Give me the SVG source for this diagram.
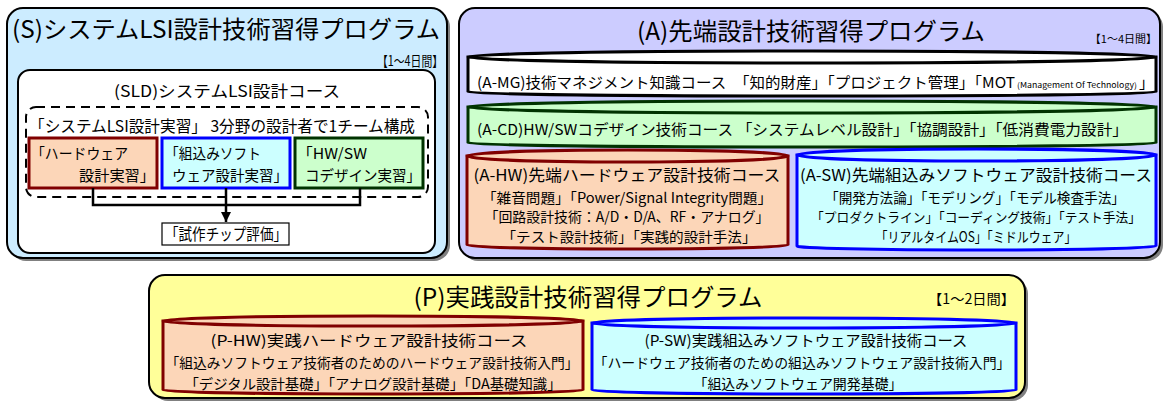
<svg xmlns="http://www.w3.org/2000/svg" width="1166" height="402" viewBox="0 0 1166 402">
<defs>
<style>
text{font-family:"Noto Sans CJK JP","Noto Sans",sans-serif;fill:#000}
.panel{stroke:#000;stroke-width:2}
.shadow{fill:#808080;stroke:none}
.t24{font-size:24px}
.t16{font-size:16px}
.t15{font-size:15px}
.t14{font-size:14px}
.t13{font-size:13px}
.mid{text-anchor:middle}
.end{text-anchor:end}
.hw{fill:#fcd6b8;stroke:#800000;stroke-width:3}
.sw{fill:#ccffff;stroke:#0000ff;stroke-width:3}
.cd{fill:#ccffcc;stroke:#003300;stroke-width:3}
.mg{fill:#ffffff;stroke:#000;stroke-width:3}
.conn{fill:none;stroke:#000;stroke-width:2.5}
</style>
<marker id="arr" viewBox="0 0 10 10" refX="10" refY="5" markerWidth="4" markerHeight="4" orient="auto" markerUnits="strokeWidth">
<path d="M0 0 L10 5 L0 10 Z" fill="#000"/>
</marker>
</defs>
<rect width="1166" height="402" fill="#fff"/>

<!-- S panel -->
<g id="panel-S">
<rect class="shadow" x="10" y="11" width="440" height="250" rx="16"/>
<rect class="panel" x="7" y="8" width="440" height="250" rx="16" fill="#ccecff"/>
<text class="t24" x="12" y="38" textLength="428" lengthAdjust="spacingAndGlyphs">(S)システムLSI設計技術習得プログラム</text>
<text class="t14 end" x="443" y="66" textLength="66" lengthAdjust="spacingAndGlyphs">【1～4日間】</text>
</g>
<g id="course-SLD">
<rect class="panel" x="18" y="70" width="417" height="183" rx="12" fill="#fff"/>
<text class="t16 mid" x="227" y="97" textLength="226" lengthAdjust="spacingAndGlyphs">(SLD)システムLSI設計コース</text>
</g>
<g id="group-practice">
<rect x="26" y="107" width="402" height="90" rx="10" fill="none" stroke="#000" stroke-width="2" stroke-dasharray="9 6"/>
<text class="t16" x="29" y="132" textLength="386" lengthAdjust="spacingAndGlyphs">「システムLSI設計実習」 3分野の設計者で1チーム構成</text>
</g>
<g id="box-hw">
<rect x="29" y="138" width="128" height="50" fill="#fcd6b8" stroke="#800000" stroke-width="3"/>
<text class="t15" x="31" y="159" textLength="97" lengthAdjust="spacingAndGlyphs">「ハードウェア</text>
<text class="t15 end" x="155" y="181" textLength="76" lengthAdjust="spacingAndGlyphs">設計実習」</text>
</g>
<g id="box-sw">
<rect x="162" y="138" width="128" height="50" fill="#ccffff" stroke="#0000ff" stroke-width="3"/>
<text class="t15" x="165" y="159" textLength="96" lengthAdjust="spacingAndGlyphs">「組込みソフト</text>
<text class="t15 end" x="288" y="181" textLength="116" lengthAdjust="spacingAndGlyphs">ウェア設計実習」</text>
</g>
<g id="box-cd">
<rect x="295" y="138" width="128" height="50" fill="#ccffcc" stroke="#003300" stroke-width="3"/>
<text class="t15" x="297" y="159" textLength="70" lengthAdjust="spacingAndGlyphs">「HW/SW</text>
<text class="t15 end" x="421" y="181" textLength="116" lengthAdjust="spacingAndGlyphs">コデザイン実習」</text>
</g>
<g id="box-chip">
<rect x="162" y="223" width="127" height="22" fill="#fff" stroke="#000" stroke-width="1.2"/>
<text class="t16 mid" x="226" y="240" textLength="122" lengthAdjust="spacingAndGlyphs">「試作チップ評価」</text>
</g>
<g id="connectors">
<path class="conn" d="M93 188 V205 H360 V188"/>
<path class="conn" d="M226 188 V222" marker-end="url(#arr)"/>
</g>

<!-- A panel -->
<g id="panel-A">
<rect class="shadow" x="462" y="11" width="701" height="250" rx="16"/>
<rect class="panel" x="459" y="8" width="701" height="250" rx="16" fill="#ccccff"/>
<text class="t24 mid" x="811" y="40" textLength="348" lengthAdjust="spacingAndGlyphs">(A)先端設計技術習得プログラム</text>
<text class="end" x="1157" y="43" font-size="11">【1～4日間】</text>
</g>
<g id="course-A-MG">
<path class="mg" d="M468 57 V92 A344 4 0 0 0 1156 92 V57 Z"/>
<ellipse class="mg" cx="812" cy="57" rx="344" ry="6"/>
<text class="t15" y="88"><tspan x="477" textLength="538" lengthAdjust="spacingAndGlyphs">(A-MG)技術マネジメント知識コース　「知的財産」「プロジェクト管理」「MOT</tspan><tspan x="1017" font-size="8" textLength="120" lengthAdjust="spacingAndGlyphs">(Management Of Technology)</tspan><tspan x="1139">」</tspan></text>
</g>
<g id="course-A-CD">
<path class="cd" d="M468 107 V143 A344 4 0 0 0 1156 143 V107 Z"/>
<ellipse class="cd" cx="812" cy="107" rx="344" ry="6"/>
<text class="t15" x="477" y="135" textLength="651" lengthAdjust="spacingAndGlyphs">(A-CD)HW/SWコデザイン技術コース 「システムレベル設計」「協調設計」「低消費電力設計」</text>
</g>
<g id="course-A-HW">
<path class="hw" d="M467 156 V245 A160.5 4 0 0 0 788 245 V156 Z"/>
<ellipse class="hw" cx="627.5" cy="156" rx="160.5" ry="6"/>
<text class="t16 mid" x="627" y="181" textLength="307" lengthAdjust="spacingAndGlyphs">(A-HW)先端ハードウェア設計技術コース</text>
<text class="t14 mid" x="627" y="203" textLength="290" lengthAdjust="spacingAndGlyphs">「雑音問題」「Power/Signal Integrity問題」</text>
<text class="t14 mid" x="627" y="222" textLength="285" lengthAdjust="spacingAndGlyphs">「回路設計技術：A/D・D/A、RF・アナログ」</text>
<text class="t14 mid" x="629" y="242" textLength="255" lengthAdjust="spacingAndGlyphs">「テスト設計技術」「実践的設計手法」</text>
</g>
<g id="course-A-SW">
<path class="sw" d="M797 155 V246 A179.5 4 0 0 0 1156 246 V155 Z"/>
<ellipse class="sw" cx="976.5" cy="155" rx="179.5" ry="6"/>
<text class="t16 mid" x="976" y="181" textLength="352" lengthAdjust="spacingAndGlyphs">(A-SW)先端組込みソフトウェア設計技術コース</text>
<text class="t14 mid" x="975" y="203" textLength="300" lengthAdjust="spacingAndGlyphs">「開発方法論」「モデリング」「モデル検査手法」</text>
<text class="t13 mid" x="976" y="222" textLength="330" lengthAdjust="spacingAndGlyphs">「プロダクトライン」「コーディング技術」「テスト手法」</text>
<text class="t14 mid" x="976" y="242" textLength="201" lengthAdjust="spacingAndGlyphs">「リアルタイムOS」「ミドルウェア」</text>
</g>

<!-- P panel -->
<g id="panel-P">
<rect class="shadow" x="152" y="278" width="876" height="123" rx="16"/>
<rect class="panel" x="149" y="275" width="876" height="123" rx="16" fill="#ffff99"/>
<text class="t24 mid" x="588" y="306" textLength="349" lengthAdjust="spacingAndGlyphs">(P)実践設計技術習得プログラム</text>
<text class="t14 end" x="1015" y="304" textLength="87" lengthAdjust="spacingAndGlyphs">【1～2日間】</text>
</g>
<g id="course-P-HW">
<path class="hw" d="M163 321 V390 A210 4 0 0 0 583 390 V321 Z"/>
<ellipse class="hw" cx="373" cy="321" rx="210" ry="5"/>
<text class="t15 mid" x="369" y="346" textLength="317" lengthAdjust="spacingAndGlyphs">(P-HW)実践ハードウェア設計技術コース</text>
<text class="t14 mid" x="372" y="368" textLength="413" lengthAdjust="spacingAndGlyphs">「組込みソフトウェア技術者のためのハードウェア設計技術入門」</text>
<text class="t14 mid" x="373" y="389" textLength="377" lengthAdjust="spacingAndGlyphs">「デジタル設計基礎」「アナログ設計基礎」「DA基礎知識」</text>
</g>
<g id="course-P-SW">
<path class="sw" d="M592 323 V390 A212 4 0 0 0 1016 390 V323 Z"/>
<ellipse class="sw" cx="804" cy="323" rx="212" ry="5"/>
<text class="t15 mid" x="806" y="346" textLength="323" lengthAdjust="spacingAndGlyphs">(P-SW)実践組込みソフトウェア設計技術コース</text>
<text class="t14 mid" x="802" y="368" textLength="417" lengthAdjust="spacingAndGlyphs">「ハードウェア技術者のための組込みソフトウェア設計技術入門」</text>
<text class="t14 mid" x="798" y="389" textLength="209" lengthAdjust="spacingAndGlyphs">「組込みソフトウェア開発基礎」</text>
</g>
</svg>
